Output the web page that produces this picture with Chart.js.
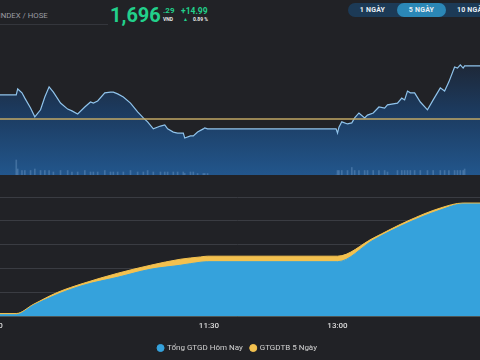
<!DOCTYPE html>
<html lang="vi">
<head>
<meta charset="utf-8">
<script src="https://cdn.jsdelivr.net/npm/chart.js@4.4.1/dist/chart.umd.min.js"></script>
<style>
html, body { margin: 0; padding: 0; background: #212226; font-family: Roboto, "Noto Sans", sans-serif; }
#wrap { position: relative; width: 480px; height: 360px; overflow: hidden; }
.abs { position: absolute; white-space: nowrap; line-height: 1; }
#title { left: -12px; top: 12px; font-size: 7.8px; color: #9b9da3; }
#rule { left: 0; top: 24px; width: 108px; height: 1px; background: #34363c; }
#last { left: 110px; top: 5px; font-size: 20px; font-weight: 700; color: #22d08b; }
#dec { left: 163px; top: 7px; font-size: 8px; font-weight: 700; color: #22d08b; }
#unit { left: 163px; top: 17px; font-size: 5px; font-weight: 700; color: #e8e8e8; }
#chg { left: 181px; top: 7px; font-size: 8.5px; font-weight: 700; color: #22d08b; }
#arrow { left: 183px; top: 17px; font-size: 5px; color: #22d08b; }
#pct { left: 193px; top: 17px; font-size: 5px; font-weight: 700; color: #e8e8e8; }
#seg { left: 348px; top: 3px; width: 150px; height: 14px; border-radius: 7px; background: #1c3a56; }
#act { left: 397px; top: 3px; width: 49px; height: 14px; border-radius: 7px; background: #2b87b6; }
.btn { top: 3px; height: 14px; line-height: 14px; font-size: 7px; font-weight: 700; color: #e8eef3; text-align: center; letter-spacing: 0.2px; }
#priceBox { position: absolute; left: -30px; top: 40px; width: 535px; height: 135px; }
#valueBox { position: absolute; left: -30px; top: 190px; width: 535px; height: 172px; }
</style>
</head>
<body>
<div id="wrap">
  <div class="abs" id="title">VNINDEX / HOSE</div>
  <div class="abs" id="rule"></div>
  <div class="abs" id="last">1,696</div>
  <div class="abs" id="dec">.29</div>
  <div class="abs" id="unit">VND</div>
  <div class="abs" id="chg">+14.99</div>
  <div class="abs" id="arrow">▲</div>
  <div class="abs" id="pct">0.89 %</div>
  <div class="abs" id="seg"></div>
  <div class="abs" id="act"></div>
  <div class="abs btn" style="left:348px;width:49px;">1 NGÀY</div>
  <div class="abs btn" style="left:397px;width:49px;">5 NGÀY</div>
  <div class="abs btn" style="left:457px;">10 NGÀY</div>
  <div id="priceBox"><canvas id="priceChart"></canvas></div>
  <div id="valueBox"><canvas id="valueChart"></canvas></div>
</div>
<script>
// Data
const refPrice = 1681.30;

const priceTimes = ['9:00', '9:15', '9:16', '9:19', '9:21', '9:25', '9:28', '9:32', '9:35', '9:38',
    '9:41', '9:46', '9:51', '9:54', '9:58', '10:03', '10:07', '10:09', '10:12', '10:17',
    '10:21', '10:23', '10:26', '10:30', '10:35', '10:40', '10:44', '10:47', '10:51', '10:56',
    '10:59', '11:01', '11:05', '11:08', '11:12', '11:13', '11:17', '11:19', '11:22', '11:26',
    '11:27', '11:29', '12:59', '13:00', '13:01', '13:03', '13:07', '13:10', '13:12', '13:15',
    '13:19', '13:21', '13:25', '13:29', '13:33', '13:35', '13:42', '13:45', '13:47', '13:49',
    '13:51', '13:54', '13:58', '14:03', '14:07', '14:12', '14:15', '14:18', '14:22', '14:24',
    '14:26', '14:28', '14:29', '15:00'];
const priceValues = [1688.1, 1688.1, 1689.8, 1688.7, 1687.2, 1684.4, 1681.9, 1683.9, 1687.5, 1690.4,
    1688.9, 1685.8, 1684.1, 1683.6, 1682.7, 1684.7, 1686.1, 1685.8, 1686.4, 1688.7,
    1688.9, 1688.9, 1688.4, 1687.5, 1685.8, 1683.3, 1681.6, 1680.5, 1678.5, 1679.3,
    1679.6, 1678.5, 1677.6, 1677.3, 1677.3, 1675.9, 1676.5, 1676.5, 1677.6, 1678.5,
    1678.8, 1678.5, 1678.5, 1677.3, 1679.0, 1680.5, 1679.9, 1680.2, 1681.6, 1683.0,
    1681.6, 1682.4, 1683.0, 1684.7, 1684.4, 1685.3, 1685.8, 1687.2, 1686.7, 1689.2,
    1688.7, 1688.7, 1686.1, 1683.9, 1686.7, 1690.1, 1689.2, 1691.8, 1696.0, 1695.7,
    1696.6, 1695.7, 1696.3, 1696.3];
const volumes = [0, 10, 4, 3, 3, 3, 4, 3, 3, 3,
    2, 3, 3, 2, 2, 3, 2, 2, 2, 3,
    2, 2, 2, 2, 3, 2, 2, 3, 2, 2,
    2, 2, 2, 2, 2, 1, 2, 2, 1, 1,
    1, 1, 0, 3, 3, 3, 3, 5, 3, 3,
    3, 3, 3, 3, 3, 2, 3, 3, 3, 3,
    3, 3, 3, 3, 3, 3, 3, 3, 3, 3,
    3, 3, 4, 0];

const valueTimes = ['9:00', '9:15', '9:27', '9:44', '10:02', '10:26', '10:49', '11:10', '11:24', '11:29',
    '13:00', '13:25', '13:49', '14:12', '14:28', '15:00'];
const todayValues = [0.36, 0.36, 2.31, 4.62, 6.51, 8.19, 9.87, 10.71, 11.34, 11.45,
    11.45, 15.97, 19.54, 22.27, 23.53, 23.53];
const avg5dValues = [0.6, 0.6, 2.52, 5.04, 6.93, 9.03, 10.71, 11.97, 12.45, 12.61,
    12.61, 16.39, 19.96, 22.69, 23.74, 23.74];
const seriesNames = ['Tổng GTGD Hôm Nay', 'GTGDTB 5 Ngày'];
const tickTimes = ['9:00', '11:30', '13:00', '15:00'];

// visible time window (minutes since midnight)
const X_MIN = 522.6;
const X_MAX = 897.3;

function toMin(t) {
    const [h, m] = t.split(':');
    return parseInt(h) * 60 + parseInt(m);
}

function fmtTime(v) {
    return `${Math.floor(v / 60)}:${String(v % 60).padStart(2, '0')}`;
}

const pricePoints = priceTimes.map((t, i) => ({ x: toMin(t), y: priceValues[i] }));
const volumePoints = priceTimes.map((t, i) => ({ x: toMin(t), y: volumes[i] }));

// Price chart
new Chart(document.getElementById('priceChart'), {
    data: {
        datasets: [
            {
                type: 'line',
                data: [{ x: X_MIN, y: refPrice }, { x: X_MAX, y: refPrice }],
                borderColor: '#c2a965',
                borderWidth: 1.5,
                pointRadius: 0,
                order: 0
            },
            {
                type: 'bar',
                data: volumePoints,
                yAxisID: 'yv',
                backgroundColor: 'rgba(150, 190, 230, 0.28)',
                barThickness: 1,
                order: 1
            },
            {
                type: 'line',
                data: pricePoints,
                borderColor: '#90c4ec',
                borderWidth: 1.2,
                pointRadius: 0,
                tension: 0,
                fill: 'start',
                backgroundColor: (ctx) => {
                    const area = ctx.chart.chartArea;
                    if (!area) return 'rgba(0,0,0,0)';
                    const g = ctx.chart.ctx.createLinearGradient(0, area.top, 0, area.bottom);
                    g.addColorStop(0, '#1f232c');
                    g.addColorStop(0.15, '#1e2634');
                    g.addColorStop(0.52, '#1c3a5e');
                    g.addColorStop(1, '#22568c');
                    return g;
                },
                order: 2
            }
        ]
    },
    options: {
        responsive: true,
        maintainAspectRatio: false,
        animation: false,
        layout: { padding: 0 },
        scales: {
            x: { type: 'linear', display: false, offset: false, min: X_MIN, max: X_MAX },
            y: { display: false, min: 1665.46, max: 1703.64 },
            yv: { display: false, min: 0, max: 90 }
        },
        plugins: {
            legend: { display: false },
            tooltip: { enabled: false },
            filler: { drawTime: 'beforeDatasetsDraw' }
        }
    }
});

// Value chart
new Chart(document.getElementById('valueChart'), {
    type: 'line',
    data: {
        datasets: [
            {
                label: seriesNames[0],
                data: valueTimes.map((t, i) => ({ x: toMin(t), y: todayValues[i] })),
                borderColor: '#35a2dc',
                backgroundColor: '#35a2dc',
                borderWidth: 1,
                pointRadius: 0,
                fill: 'origin',
                cubicInterpolationMode: 'monotone',
                order: 1
            },
            {
                label: seriesNames[1],
                data: valueTimes.map((t, i) => ({ x: toMin(t), y: avg5dValues[i] })),
                borderColor: '#f3c14f',
                backgroundColor: '#f3c14f',
                borderWidth: 1,
                pointRadius: 0,
                fill: 'origin',
                cubicInterpolationMode: 'monotone',
                order: 2
            }
        ]
    },
    options: {
        responsive: true,
        maintainAspectRatio: false,
        animation: false,
        layout: { padding: { top: 7, left: 0, right: 0, bottom: 0 } },
        scales: {
            x: {
                type: 'linear',
                min: X_MIN,
                max: X_MAX,
                offset: false,
                afterBuildTicks: (scale) => {
                    scale.ticks = tickTimes.map(toMin)
                        .filter(v => v >= X_MIN && v <= X_MAX)
                        .map(v => ({ value: v }));
                },
                grid: { display: false, drawTicks: false },
                border: { display: false },
                ticks: {
                    autoSkip: false,
                    maxRotation: 0,
                    padding: 5,
                    color: '#dcdcdc',
                    font: { family: 'Roboto', size: 8, weight: '500' },
                    callback: (v) => fmtTime(v)
                }
            },
            y: {
                min: 0,
                max: 25,
                ticks: { display: false, stepSize: 5 },
                grid: { color: '#3a3c42', drawTicks: false },
                border: { display: false }
            }
        },
        plugins: {
            tooltip: { enabled: false },
            legend: {
                position: 'bottom',
                labels: {
                    usePointStyle: true,
                    pointStyle: 'circle',
                    boxWidth: 5,
                    boxHeight: 5,
                    padding: 8,
                    color: '#d2d2d2',
                    font: { family: 'Roboto', size: 8, lineHeight: 0.6 }
                }
            }
        }
    }
});
</script>
</body>
</html>
